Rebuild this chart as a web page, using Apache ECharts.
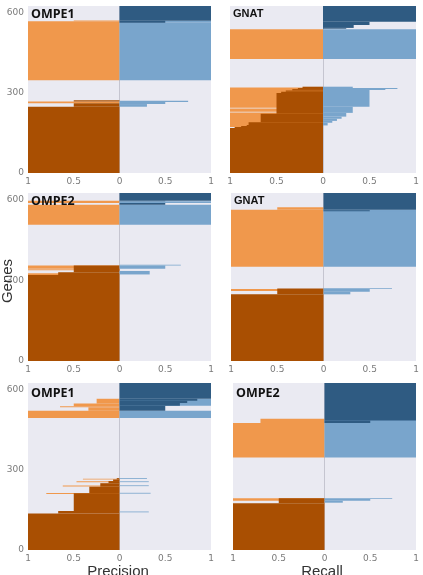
<!DOCTYPE html>
<html><head><meta charset="utf-8">
<script src="https://cdn.jsdelivr.net/npm/echarts@6/dist/echarts.min.js"></script>
<style>html,body{margin:0;padding:0;background:#fff}#c{width:423px;height:575px}</style>
</head><body><div id="c"></div>
<script>
// ---- data: [firstGene, lastGene, value] runs of genes sharing a precision / recall value ----
const panelTitles = ['OMPE1', 'GNAT', 'OMPE2', 'GNAT', 'OMPE1', 'OMPE2'];
const xTicks = [-1, -0.5, 0, 0.5, 1];
const yTicks = [0, 300, 600];
const geneCount = 625;

// Panel 1 (OMPE1, top left)
const p1PrecLight = [[261,268,1],[347,568,1],[568,571,0.5]];
const p1PrecDark  = [[0,248,1],[248,261,0.5],[268,272,0.5]];
const p1RecLight  = [[347,562,1],[562,570,1],[248,258,0.3],[258,266,0.5],[266,270,0.75]];
const p1RecDark   = [[562,570,0.5],[570,625,1]];
// Panel 2 (GNAT, top right)
const p2PrecLight = [[172,226,1],[229,241,1],[244,320,1],[427,538,1]];
const p2PrecDark  = [[0,168,1],[168,172,0.95],[172,176,0.88],[176,180,0.82],[180,190,0.8],[190,222,0.67],[222,299,0.5],[299,304,0.45],[304,309,0.4],[309,314,0.33],[314,318,0.27],[318,323,0.22]];
const p2RecLight  = [[427,538,1],[178,188,0.05],[188,195,0.1],[195,203,0.15],[203,211,0.2],[211,225,0.25],[225,248,0.32],[248,311,0.5],[311,314,0.67],[314,318,0.8],[318,323,0.32]];
const p2RecDark   = [[540,543,0.25],[543,554,0.33],[554,566,0.5],[566,625,1]];
// Panel 3 (OMPE2, middle left)
const p3PrecLight = [[320,326,1],[338,341,1],[343,355,1],[507,581,1],[588,596,1]];
const p3PrecDark  = [[0,320,1],[320,330,0.67],[330,355,0.5]];
const p3RecLight  = [[507,581,1],[588,594,1],[322,335,0.33],[343,355,0.5],[355,358,0.67]];
const p3RecDark   = [[581,588,0.5],[594,596,0.5],[596,625,1]];
// Panel 4 (GNAT, middle right)
const p4PrecLight = [[260,268,1],[351,563,1],[563,572,0.5]];
const p4PrecDark  = [[0,248,1],[248,270,0.5]];
const p4RecLight  = [[351,563,1],[557,563,1],[248,258,0.29],[258,268,0.5],[268,271,0.74]];
const p4RecDark   = [[557,561,0.5],[563,625,1]];
// Panel 5 (OMPE1, bottom left)
const p5PrecLight = [[210,213,0.8],[238,241,0.62],[254,257,0.47],[264,267,0.4],[494,521,1],[521,534,0.34],[534,538,0.65],[538,548,0.5],[548,566,0.25]];
const p5PrecDark  = [[0,137,1],[137,146,0.67],[146,212,0.5],[212,237,0.33],[237,250,0.21],[250,258,0.12],[258,264,0.07],[264,269,0.03]];
const p5RecLight  = [[494,521,1],[540,566,1],[141,144,0.32],[211,214,0.34],[239,242,0.32],[254,257,0.32],[266,269,0.3]];
const p5RecDark   = [[521,540,0.5],[540,550,0.66],[550,559,0.74],[559,566,0.85],[566,625,1]];
// Panel 6 (OMPE2, bottom right)
const p6PrecLight = [[184,194,1],[346,475,1],[475,491,0.7]];
const p6PrecDark  = [[0,175,1],[175,194,0.5]];
const p6RecLight  = [[346,475,1],[475,487,1],[177,184,0.2],[184,191,0.5],[191,194,0.74]];
const p6RecDark   = [[475,485,0.5],[485,625,1]];

const panelData = [
  [p1PrecLight, p1PrecDark, p1RecLight, p1RecDark],
  [p2PrecLight, p2PrecDark, p2RecLight, p2RecDark],
  [p3PrecLight, p3PrecDark, p3RecLight, p3RecDark],
  [p4PrecLight, p4PrecDark, p4RecLight, p4RecDark],
  [p5PrecLight, p5PrecDark, p5RecLight, p5RecDark],
  [p6PrecLight, p6PrecDark, p6RecLight, p6RecDark]
];

// ---- layout / style ----
const rects = [
  {left:28, top:6, width:183, height:167},
  {left:230, top:6, width:186, height:167},
  {left:28, top:193, width:183, height:168},
  {left:231, top:193, width:185, height:168},
  {left:28, top:383, width:183, height:167},
  {left:233, top:383, width:183, height:167}
];
const layerColors = ['#f0984c', '#a94f02', '#79a5cc', '#2f5b82'];
const layerSign = [-1, -1, 1, 1];

function makeRender(sign) {
  return function (params, api) {
    const g0 = api.value(0), g1 = api.value(1), v = api.value(2);
    const a = api.coord([0, g0]);
    const b = api.coord([sign * v, g1]);
    return {
      type: 'rect',
      shape: {x: Math.min(a[0], b[0]), y: Math.min(a[1], b[1]), width: Math.abs(b[0] - a[0]), height: Math.abs(b[1] - a[1])},
      style: {fill: api.visual('color')}
    };
  };
}

const grids = [], xAxes = [], yAxes = [], series = [], titles = [];
rects.forEach((r, i) => {
  grids.push(Object.assign({show: true, backgroundColor: '#eaeaf2', borderWidth: 0}, r));
  xAxes.push({
    type: 'value', gridIndex: i, min: xTicks[0], max: xTicks[xTicks.length - 1], interval: 0.5,
    axisLine: {show: false}, axisTick: {show: false}, splitLine: {show: false},
    axisLabel: {color: '#7a7a7a', fontSize: 9, margin: 4, fontFamily: 'DejaVu Sans',
      formatter: v => String(Math.abs(v))}
  });
  yAxes.push({
    type: 'value', gridIndex: i, min: 0, max: geneCount, interval: yTicks[1] - yTicks[0],
    axisLine: {show: false}, axisTick: {show: false}, splitLine: {show: false},
    axisLabel: {show: i % 2 === 0, color: '#7a7a7a', fontSize: 9, margin: 4, fontFamily: 'DejaVu Sans'}
  });
  const isOmpe = panelTitles[i].indexOf('OMPE') === 0;
  titles.push({
    text: panelTitles[i], left: r.left + 3, top: r.top + (i >= 4 ? 4 : 2), padding: 0,
    textStyle: {fontSize: isOmpe ? 12.5 : 11, fontWeight: 'bold', color: '#111',
      fontFamily: isOmpe ? 'Open Sans' : 'Liberation Sans'}
  });
  panelData[i].forEach((layer, k) => {
    const s = {
      type: 'custom', xAxisIndex: i, yAxisIndex: i, z: 2,
      renderItem: makeRender(layerSign[k]),
      itemStyle: {color: layerColors[k]},
      encode: {x: 2, y: [0, 1]},
      data: layer, silent: true, animation: false
    };
    if (k === 0) {
      s.markLine = {silent: true, z: 1, symbol: 'none', animation: false, label: {show: false},
        lineStyle: {color: '#c5c5d0', width: 1, type: 'solid'}, data: [{xAxis: 0}]};
    }
    series.push(s);
  });
});

const chart = echarts.init(document.getElementById('c'), null, {renderer: 'canvas'});
chart.setOption({
  animation: false,
  backgroundColor: '#ffffff',
  title: titles,
  grid: grids, xAxis: xAxes, yAxis: yAxes, series: series,
  graphic: [
    {type: 'text', x: 8, y: 281, rotation: Math.PI / 2,
      style: {text: 'Genes', fontSize: 15, fill: '#333', align: 'center', verticalAlign: 'middle', fontFamily: 'Liberation Sans'}},
    {type: 'text', x: 118, y: 564,
      style: {text: 'Precision', fontSize: 15, fill: '#333', align: 'center', verticalAlign: 'top', fontFamily: 'Liberation Sans'}},
    {type: 'text', x: 322, y: 564,
      style: {text: 'Recall', fontSize: 15, fill: '#333', align: 'center', verticalAlign: 'top', fontFamily: 'Liberation Sans'}}
  ]
});
</script>
</body></html>
